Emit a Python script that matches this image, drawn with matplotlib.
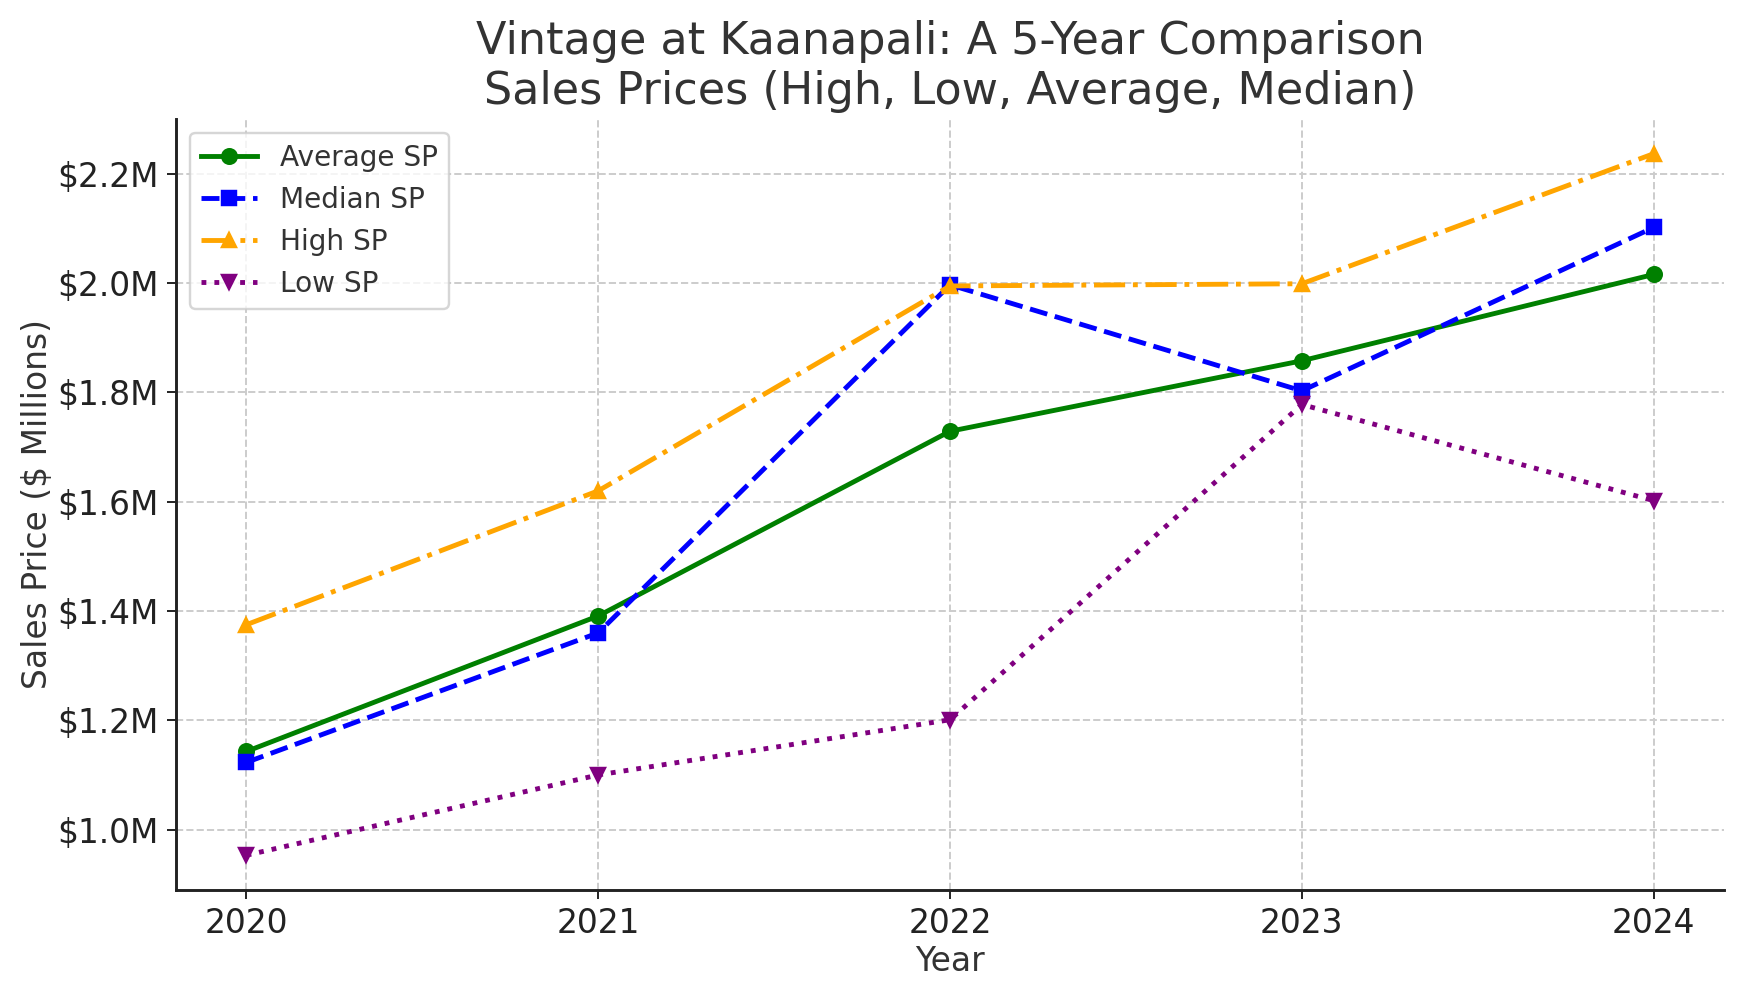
import matplotlib
matplotlib.use("Agg")
import matplotlib.pyplot as plt
from matplotlib.ticker import FuncFormatter

years = [2020, 2021, 2022, 2023, 2024]
average_sp = [1.143, 1.391, 1.729, 1.858, 2.016]
median_sp = [1.123, 1.360, 1.997, 1.803, 2.102]
high_sp = [1.375, 1.620, 1.995, 1.999, 2.237]
low_sp = [0.953, 1.100, 1.201, 1.778, 1.602]

plt.rcParams['text.color'] = '#333333'
plt.rcParams['axes.labelcolor'] = '#333333'
plt.rcParams['xtick.color'] = '#222222'
plt.rcParams['ytick.color'] = '#222222'

fig = plt.figure(figsize=(1747/175, 997/175), dpi=175)
ax = fig.add_axes([0.1008, 0.107, 0.886, 0.774])

ax.plot(years, average_sp, color='green', linestyle='-', marker='o', linewidth=2, markersize=6, label='Average SP')
ax.plot(years, median_sp, color='blue', linestyle='--', marker='s', linewidth=2, markersize=6, label='Median SP')
ax.plot(years, high_sp, color='orange', linestyle='-.', marker='^', linewidth=2, markersize=6, label='High SP')
ax.plot(years, low_sp, color='purple', linestyle=':', marker='v', linewidth=2, markersize=6, label='Low SP')

ax.set_title('Vintage at Kaanapali: A 5-Year Comparison\nSales Prices (High, Low, Average, Median)', fontsize=18.3, color='#333333')
ax.set_xlabel('Year', fontsize=13.5, labelpad=2)
ax.set_ylabel('Sales Price ($ Millions)', fontsize=13.5, labelpad=1.5)
ax.set_xticks(years)
ax.yaxis.set_major_formatter(FuncFormatter(lambda v, p: f'${v:.1f}M'))
ax.tick_params(labelsize=13.5)
ax.grid(True, linestyle='--', color='#cccccc', linewidth=0.8)
ax.spines['top'].set_visible(False)
ax.spines['right'].set_visible(False)
for s in ['left', 'bottom']:
    ax.spines[s].set_color('#222222')
    ax.spines[s].set_linewidth(1.2)
ax.legend(loc='upper left', fontsize=11.5)

fig.savefig('out.png', dpi=175)
